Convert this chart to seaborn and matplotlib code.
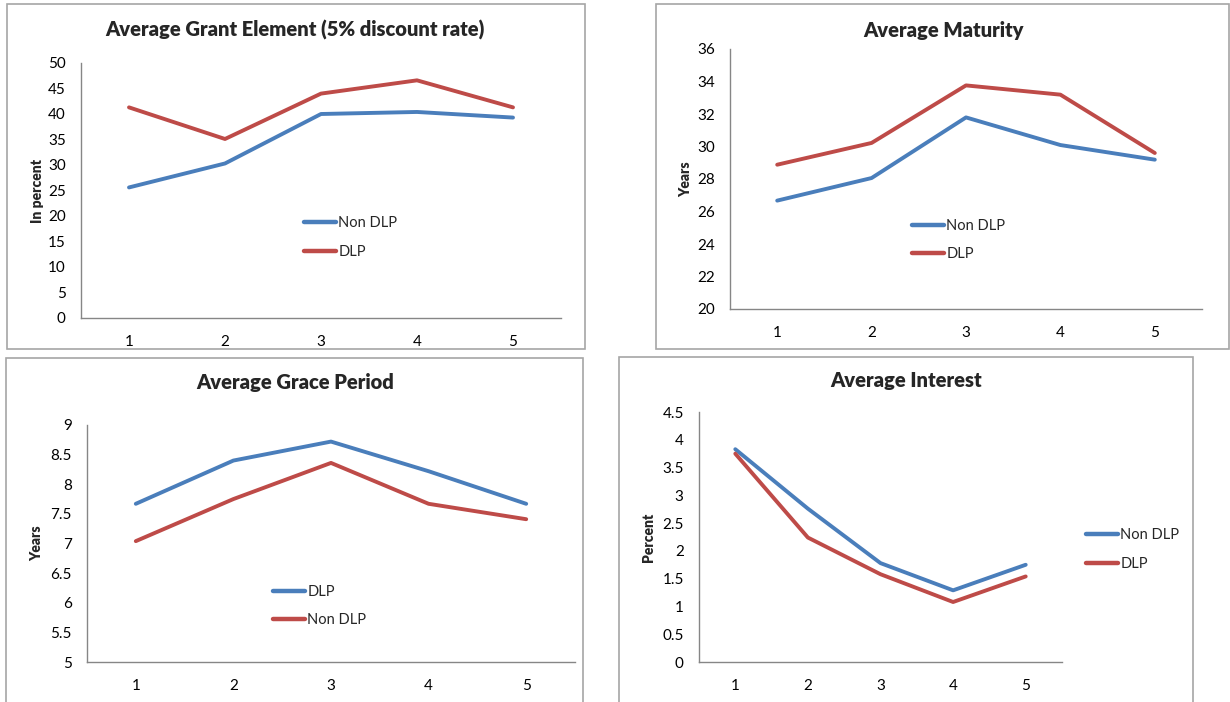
import pandas as pd
import matplotlib.pyplot as plt
from matplotlib.patches import Rectangle
from matplotlib.ticker import FuncFormatter
import seaborn as sns

# data
groups = [1, 2, 3, 4, 5]

grant_non_dlp = [25.6, 30.3, 40.0, 40.4, 39.3]
grant_dlp = [41.3, 35.1, 44.0, 46.6, 41.3]

maturity_non_dlp = [26.67, 28.06, 31.79, 30.09, 29.19]
maturity_dlp = [28.88, 30.22, 33.76, 33.19, 29.6]

# note: in this panel the blue line is labelled DLP
grace_dlp = [7.67, 8.40, 8.72, 8.22, 7.67]
grace_non_dlp = [7.04, 7.75, 8.36, 7.67, 7.41]

interest_non_dlp = [3.83, 2.76, 1.78, 1.29, 1.75]
interest_dlp = [3.75, 2.24, 1.58, 1.08, 1.54]

BLUE = "#4A7EBB"
RED = "#BE4B48"
W, H = 1230, 702

sns.set_style("white")
plt.rcParams['font.family'] = ['Lato', 'DejaVu Sans']

fig = plt.figure(figsize=(W / 100, H / 100), dpi=100)


def px_box(x0, y0, x1, y1):
    return [x0 / W, 1 - y1 / H, (x1 - x0) / W, (y1 - y0) / H]


def frame(x0, y0, x1, y1):
    r = Rectangle((x0 / W, 1 - y1 / H), (x1 - x0) / W, (y1 - y0) / H,
                  transform=fig.transFigure, fill=False,
                  edgecolor="#A6A6A6", lw=1.2, clip_on=False)
    fig.patches.append(r)


def panel(axbox, s1, s2, title, title_xy, ylabel, ylabel_x, ylim, ystep, leg_xy):
    ax = fig.add_axes(px_box(*axbox))
    name1, v1 = s1
    name2, v2 = s2
    df = pd.DataFrame({
        "x": groups + groups,
        "value": v1 + v2,
        "series": [name1] * len(v1) + [name2] * len(v2),
    })
    sns.lineplot(data=df, x="x", y="value", hue="series",
                 palette={name1: BLUE, name2: RED}, linewidth=2.8,
                 ax=ax, legend=False)
    ax.set_xlim(0.5, 5.5)
    ax.set_ylim(*ylim)
    ax.set_xticks(groups)
    n = int(round((ylim[1] - ylim[0]) / ystep))
    ax.set_yticks([ylim[0] + i * ystep for i in range(n + 1)])
    ax.yaxis.set_major_formatter(FuncFormatter(lambda v, p: f"{v:g}"))
    ax.tick_params(axis="both", length=0, labelsize=11, colors="black")
    ax.tick_params(axis="y", pad=11)
    ax.tick_params(axis="x", pad=12)
    ax.set_xlabel("")
    ax.set_ylabel("")
    for side in ["top", "right"]:
        ax.spines[side].set_visible(False)
    for side in ["left", "bottom"]:
        ax.spines[side].set_color("#868686")
        ax.spines[side].set_linewidth(1)
    ax.patch.set_alpha(0)

    fig.text(title_xy[0] / W, 1 - title_xy[1] / H, title, ha="center",
             va="center", fontsize=14.5, fontweight="heavy")
    y_mid = (axbox[1] + axbox[3]) / 2
    fig.text(ylabel_x / W, 1 - y_mid / H, ylabel, rotation=90, ha="center",
             va="center", fontsize=10, fontweight="heavy")

    h1 = plt.Line2D([], [], color=BLUE, lw=3.2)
    h2 = plt.Line2D([], [], color=RED, lw=3.2)
    ax.legend([h1, h2], [name1, name2], loc="center left",
              bbox_to_anchor=(leg_xy[0] / W, 1 - leg_xy[1] / H),
              bbox_transform=fig.transFigure, frameon=False, fontsize=10.5,
              handlelength=2.2, handletextpad=0.15, labelspacing=1.0,
              borderpad=0, borderaxespad=0)
    return ax


frame(7, 4, 585, 349)
frame(656, 4, 1229, 349)
frame(6, 358, 583, 720)
frame(619, 357, 1193, 720)

panel((81, 63, 561, 318), ("Non DLP", grant_non_dlp), ("DLP", grant_dlp),
      "Average Grant Element (5% discount rate)", (295, 30),
      "In percent", 38, (0, 50), 5, (304, 237.5))

panel((730, 49, 1202, 309), ("Non DLP", maturity_non_dlp), ("DLP", maturity_dlp),
      "Average Maturity", (944, 30),
      "Years", 686, (20, 36), 2, (912, 240))

panel((87, 425, 575, 662), ("DLP", grace_dlp), ("Non DLP", grace_non_dlp),
      "Average Grace Period", (295, 383),
      "Years", 37, (5, 9), 0.5, (273, 606))

panel((699, 412, 1062, 662), ("Non DLP", interest_non_dlp), ("DLP", interest_dlp),
      "Average Interest", (906, 381),
      "Percent", 649, (0, 4.5), 0.5, (1086, 549.5))

fig.savefig("out.png", dpi=100)
